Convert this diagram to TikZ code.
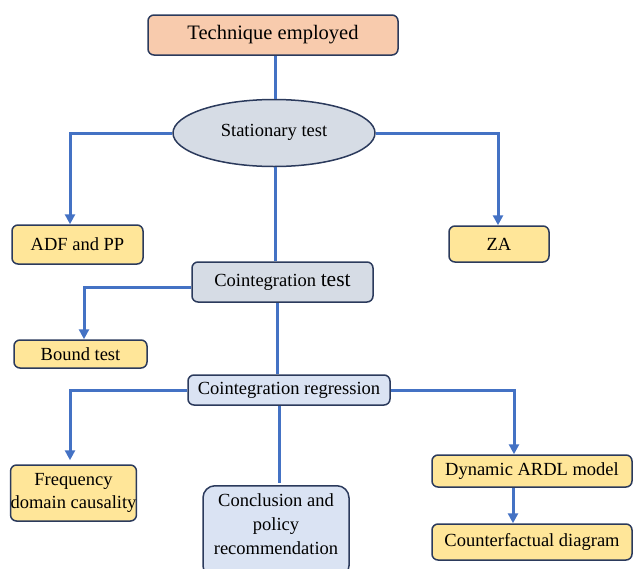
\documentclass[tikz,border=0pt]{standalone}
\usepackage{fontspec}
\setmainfont{Liberation Serif}
\usetikzlibrary{shapes.geometric,arrows.meta,calc}
\definecolor{lineblue}{HTML}{4472C4}
\definecolor{bordernavy}{HTML}{2B3A5C}
\definecolor{peach}{HTML}{F8CBAD}
\definecolor{boxyellow}{HTML}{FFE699}
\definecolor{greyblue}{HTML}{D6DCE5}
\definecolor{lightblue}{HTML}{DAE3F3}
\tikzset{
  basebox/.style={draw=bordernavy, line width=1.5pt, rounded corners=6pt, align=center, inner sep=0pt,
    font=\fontsize{18.5}{23}\selectfont},
  conn/.style={draw=lineblue, line width=3pt},
  arr/.style={conn, -{Triangle[length=10pt,width=10pt]}},
}
\begin{document}
\begin{tikzpicture}[x=1pt,y=-1pt]
\useasboundingbox (0,0) rectangle (634,568);
\clip (0,0) rectangle (634,568);
\node[basebox, fill=peach, minimum width=250pt, minimum height=40pt, font=\fontsize{20.5}{24}\selectfont] (tech) at (273,35) {Technique employed};
\node[draw=bordernavy, line width=1.5pt, fill=greyblue, ellipse, minimum width=202pt, minimum height=67pt, inner sep=0pt, font=\fontsize{18.5}{23}\selectfont] (stat) at (274,133) {\raisebox{6pt}{Stationary test}};
\node[basebox, fill=boxyellow, minimum width=131pt, minimum height=39pt] (adf) at (77.5,244.5) {ADF and PP};
\node[basebox, fill=boxyellow, minimum width=100pt, minimum height=36pt] (za) at (499,244) {ZA};
\node[basebox, fill=greyblue, minimum width=181pt, minimum height=40pt] (ct) at (282.5,282) {Cointegration {\fontsize{21.5}{24}\selectfont test}};
\node[basebox, fill=boxyellow, minimum width=133pt, minimum height=28pt] (bt) at (80.5,354) {Bound test};
\node[basebox, fill=lightblue, minimum width=202pt, minimum height=30pt] (cr) at (289,390) {Cointegration regression};
\node[basebox, fill=boxyellow, minimum width=121pt, minimum height=56pt] (fq) at (73.5,493) {Frequency\\domain causality};
\node[basebox, fill=lightblue, rounded corners=12pt, minimum width=146pt, minimum height=92pt, anchor=north] (cc) at (276,485) {};
\node[font=\fontsize{18.5}{24}\selectfont, align=center, anchor=north, inner sep=0pt] (cctext) at (276,493) {Conclusion and\\policy\\recommendation};
\node[basebox, fill=boxyellow, minimum width=200pt, minimum height=32pt] (dy) at (532,471) {Dynamic ARDL model};
\node[basebox, fill=boxyellow, minimum width=200pt, minimum height=36pt] (cf) at (532,542) {Counterfactual diagram};
% connectors
\draw[conn] ([xshift=2pt]tech.south) -- ([xshift=1pt]stat.north);
\draw[arr] (stat.west) -| ([xshift=-7.5pt]adf.north);
\draw[arr] (stat.east) -| ([xshift=-1pt]za.north);
\draw[conn] ([xshift=1pt]stat.south) -- ($(stat.south |- ct.north)+(1pt,0)$);
\draw[arr] ([yshift=-5pt]ct.west) -| ([xshift=3.5pt]bt.north);
\draw[conn] ([xshift=-5pt]ct.south) -- ($(ct.south |- cr.north)+(-5pt,0)$);
\draw[arr, shorten >=4pt] (cr.west) -| ([xshift=-3.5pt]fq.north);
\draw[conn] ([xshift=-10pt]cr.south) -- ($(cr.south |- cc.north)+(-10pt,2pt)$);
\draw[arr] (cr.east) -| ([xshift=-18pt]dy.north);
\draw[arr] ([xshift=-19pt]dy.south) -- ($(dy.south |- cf.north)+(-19pt,0)$);
\end{tikzpicture}
\end{document}
